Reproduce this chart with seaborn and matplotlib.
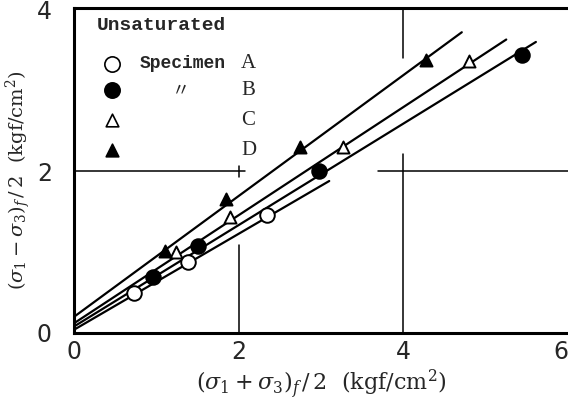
import numpy as np
import pandas as pd
import matplotlib
matplotlib.use("Agg")
import matplotlib.pyplot as plt
import seaborn as sns

# values
specimens = ["A", "B", "C", "D"]
a_x = [0.73, 1.38, 2.35]
a_y = [0.49, 0.88, 1.46]
b_x = [0.96, 1.51, 2.97, 5.44]
b_y = [0.69, 1.07, 2.00, 3.44]
c_x = [1.24, 1.89, 3.27, 4.80]
c_y = [1.00, 1.43, 2.30, 3.36]
d_x = [1.10, 1.85, 2.74, 4.27]
d_y = [1.02, 1.66, 2.30, 3.38]

# fitted lines: intercept at the y axis and end point
line_b0 = [0.04, 0.08, 0.12, 0.20]
line_xend = [3.10, 5.61, 5.25, 4.71]
line_yend = [1.88, 3.60, 3.63, 3.72]

xticks = [0, 2, 4, 6]
yticks = [0, 2, 4]

df = pd.DataFrame({
    "x": a_x + b_x + c_x + d_x,
    "y": a_y + b_y + c_y + d_y,
    "spec": ["A"] * len(a_x) + ["B"] * len(b_x) + ["C"] * len(c_x) + ["D"] * len(d_x),
})

sns.set_theme(style="white")
plt.rcParams["font.family"] = ["DejaVu Sans", "Noto Sans CJK JP"]
plt.rcParams["mathtext.fontset"] = "dejavuserif"

fig = plt.figure(figsize=(5.68, 4.03), dpi=100)
ax = fig.add_axes([74 / 568, 70 / 403, 494 / 568, 325 / 403])

# partial grid lines (broken where the data runs through)
gkw = dict(color="black", lw=1.1, zorder=1)
ax.plot([0, 2.08], [2, 2], **gkw)
ax.plot([3.69, 6.0], [2, 2], **gkw)
ax.plot([2, 2], [0, 1.09], **gkw)
ax.plot([2, 2], [1.93, 2.07], **gkw)
ax.plot([4, 4], [0, 2.22], **gkw)
ax.plot([4, 4], [3.40, 4.1], **gkw)

# fitted lines
for b0, xe, ye in zip(line_b0, line_xend, line_yend):
    xs = np.array([0.0, xe])
    slope = (ye - b0) / xe
    sns.lineplot(x=xs, y=b0 + slope * xs, color="black", lw=1.6, ax=ax, zorder=2)

markers = {"A": "o", "B": "o", "C": "^", "D": "^"}
faces = {"A": "white", "B": "black", "C": "white", "D": "black"}
sizes = {"A": 110, "B": 110, "C": 75, "D": 75}
for s in specimens:
    sub = df[df["spec"] == s]
    sns.scatterplot(data=sub, x="x", y="y", marker=markers[s], s=sizes[s],
                    color=faces[s], edgecolor="black", linewidth=1.4,
                    ax=ax, zorder=3, legend=False)

ax.set_xlim(0, 5.95)
ax.set_ylim(0, 4.02)
ax.set_xticks(xticks)
ax.set_yticks(yticks)
ax.tick_params(axis="x", length=0, labelsize=17, pad=5)
ax.tick_params(axis="y", length=0, labelsize=17, pad=16)
ax.get_xticklabels()[-1].set_horizontalalignment("right")
for sp in ["left", "bottom", "top"]:
    ax.spines[sp].set_color("black")
    ax.spines[sp].set_linewidth(2.2)
ax.spines["right"].set_visible(False)

ax.set_xlabel(r"$(\sigma_1 + \sigma_3)_f\,/\,2$  (kgf/cm$^2$)", fontsize=16,
              family="DejaVu Serif", labelpad=3)
ax.set_ylabel(r"$(\sigma_1 - \sigma_3)_f\,/\,2$  (kgf/cm$^2$)", fontsize=14,
              family="DejaVu Serif")
ax.yaxis.set_label_coords(-0.083, 0.47)

# hand-made legend
ax.text(0.28, 3.80, "Unsaturated", fontsize=14, family="Liberation Mono",
        fontweight="bold", va="center")
rows_y = [3.33, 3.00, 2.63, 2.26]
for s, ry in zip(specimens, rows_y):
    ax.scatter([0.46], [ry], marker=markers[s], s=sizes[s] * 1.1, c=faces[s],
               edgecolors="black", linewidths=1.2, zorder=4, clip_on=False)
    ax.text(2.12, ry, s, fontsize=15, family="Liberation Serif",
            ha="center", va="center")
ax.text(0.80, 3.33, "Specimen", fontsize=13, family="Liberation Mono",
        fontweight="bold", va="center")
ax.text(1.30, 3.00, "〃", fontsize=13, family=["Noto Sans CJK JP", "DejaVu Sans"],
        ha="center", va="center")

plt.savefig("out.png", dpi=100)
